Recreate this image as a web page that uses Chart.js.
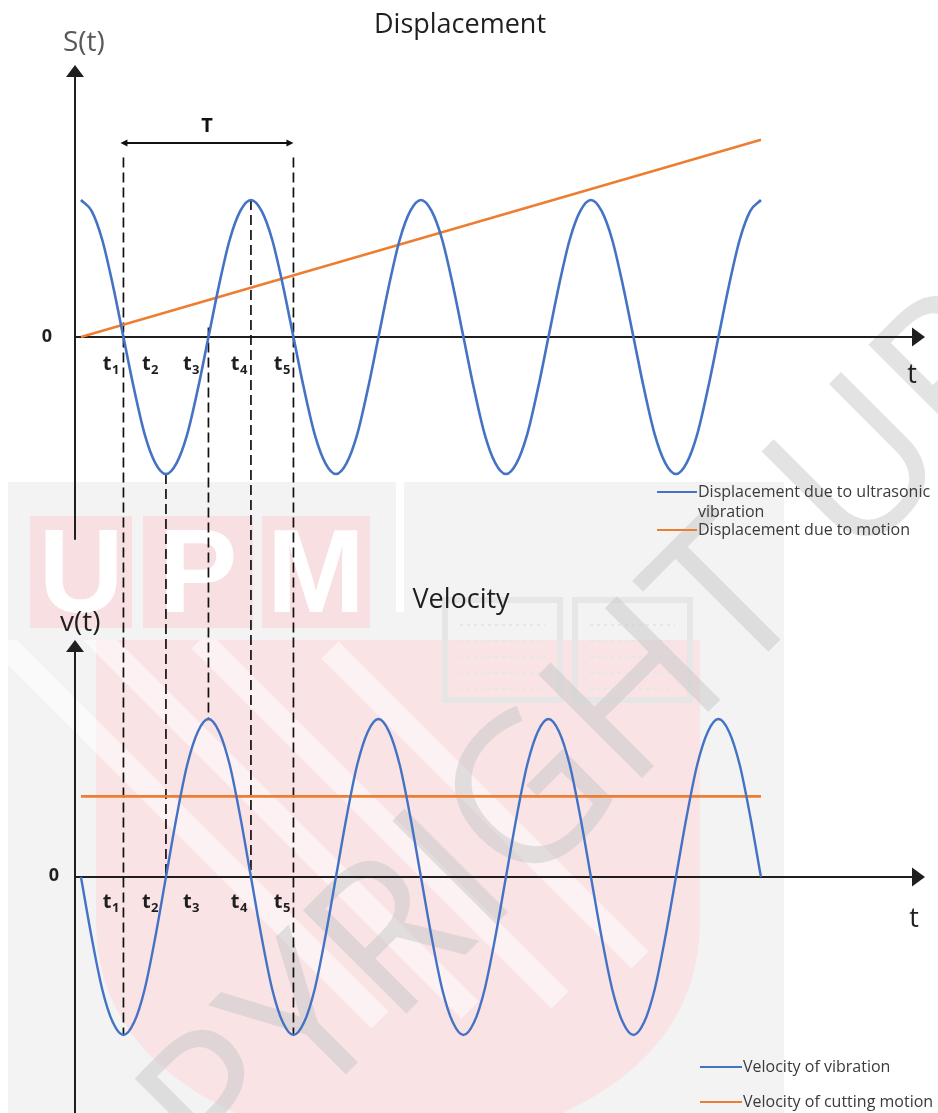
<!DOCTYPE html>
<html>
<head>
<meta charset="utf-8">
<title>Displacement and velocity of ultrasonic vibration</title>
<script src="https://cdn.jsdelivr.net/npm/chart.js@4.4.1/dist/chart.umd.min.js"></script>
<style>
  html, body { margin: 0; padding: 0; background: #fff; }
  #wrap { position: relative; width: 938px; height: 1113px; }
</style>
</head>
<body>
<div id="wrap"><canvas id="chart" width="938" height="1113"></canvas></div>
<script>
// Time in vibration periods (T = 1), sixteen readings per period
const timeT = [
  0, 0.0625, 0.125, 0.1875, 0.25, 0.3125, 0.375, 0.4375,
  0.5, 0.5625, 0.625, 0.6875, 0.75, 0.8125, 0.875, 0.9375,
  1, 1.0625, 1.125, 1.1875, 1.25, 1.3125, 1.375, 1.4375,
  1.5, 1.5625, 1.625, 1.6875, 1.75, 1.8125, 1.875, 1.9375,
  2, 2.0625, 2.125, 2.1875, 2.25, 2.3125, 2.375, 2.4375,
  2.5, 2.5625, 2.625, 2.6875, 2.75, 2.8125, 2.875, 2.9375,
  3, 3.0625, 3.125, 3.1875, 3.25, 3.3125, 3.375, 3.4375,
  3.5, 3.5625, 3.625, 3.6875, 3.75, 3.8125, 3.875, 3.9375, 4];

// Displacement due to ultrasonic vibration (amplitude 1)
const displacementVibration = [
  1, 0.92, 0.71, 0.38, 0, -0.38, -0.71, -0.92, -1, -0.92, -0.71, -0.38, 0, 0.38, 0.71, 0.92,
  1, 0.92, 0.71, 0.38, 0, -0.38, -0.71, -0.92, -1, -0.92, -0.71, -0.38, 0, 0.38, 0.71, 0.92,
  1, 0.92, 0.71, 0.38, 0, -0.38, -0.71, -0.92, -1, -0.92, -0.71, -0.38, 0, 0.38, 0.71, 0.92,
  1, 0.92, 0.71, 0.38, 0, -0.38, -0.71, -0.92, -1, -0.92, -0.71, -0.38, 0, 0.38, 0.71, 0.92,
  1];

// Velocity of vibration (amplitude 1)
const velocityVibration = [
  0, -0.38, -0.71, -0.92, -1, -0.92, -0.71, -0.38, 0, 0.38, 0.71, 0.92, 1, 0.92, 0.71, 0.38,
  0, -0.38, -0.71, -0.92, -1, -0.92, -0.71, -0.38, 0, 0.38, 0.71, 0.92, 1, 0.92, 0.71, 0.38,
  0, -0.38, -0.71, -0.92, -1, -0.92, -0.71, -0.38, 0, 0.38, 0.71, 0.92, 1, 0.92, 0.71, 0.38,
  0, -0.38, -0.71, -0.92, -1, -0.92, -0.71, -0.38, 0, 0.38, 0.71, 0.92, 1, 0.92, 0.71, 0.38,
  0];

// Feed motion: straight displacement ramp and constant cutting velocity
const motionTime = [0, 4];
const displacementMotion = [0, 1.44];
const velocityCutting = [0.51, 0.51];

// Instants t1..t5 and where each guide line starts (S) and ends (v)
const markerTimes = [0.25, 0.5, 0.75, 1, 1.25];
const markerNames = ['1', '2', '3', '4', '5'];
const markerStartS = [1.31, -1, 0.07, 1, 1.31];
const markerEndV = [-1, 0, 1, 0, -1];
const markerLabelTimes = [0.176, 0.406, 0.647, 0.929, 1.182];

// One period T between t1 and t5
const periodSpan = [0.25, 1.25];
const periodLevel = 1.416;

// Axis extents in data units
const timeAxis = [-0.035, 4.965];
const sAxis = [-1.48, 1.985];
const vAxis = [-1.5, 1.5];

const COLORS = {
  blue: '#4472C4', orange: '#ED7D31', axis: '#1f1f1f',
  text: '#1f1f1f', muted: '#595959', legend: '#3a3a3a'
};
const FONT = '"Open Sans", "Liberation Sans", sans-serif';

function pts(xs, ys) { return xs.map((x, i) => ({ x, y: ys[i] })); }

function arrowHead(ctx, x, y, dx, dy, len, half) {
  const nx = -dy, ny = dx;
  ctx.beginPath();
  ctx.moveTo(x, y);
  ctx.lineTo(x - dx * len + nx * half, y - dy * len + ny * half);
  ctx.lineTo(x - dx * len - nx * half, y - dy * len - ny * half);
  ctx.closePath();
  ctx.fill();
}

function subscriptLabel(ctx, cx, baseline, sub) {
  ctx.font = 'bold 20px ' + FONT;
  const wMain = ctx.measureText('t').width;
  ctx.font = 'bold 13px ' + FONT;
  const wSub = ctx.measureText(sub).width;
  const left = cx - (wMain + wSub) / 2;
  ctx.textAlign = 'left';
  ctx.textBaseline = 'alphabetic';
  ctx.font = 'bold 20px ' + FONT;
  ctx.fillText('t', left, baseline);
  ctx.font = 'bold 13px ' + FONT;
  ctx.fillText(sub, left + wMain + 0.5, baseline + 4);
}

function drawWatermark(ctx) {
  ctx.save();
  // grey backing
  ctx.fillStyle = '#f3f3f3';
  ctx.fillRect(8, 482, 776, 631);
  ctx.fillStyle = '#ffffff';
  ctx.fillRect(396, 482, 8, 130);

  // shield
  ctx.fillStyle = '#f9e3e5';
  ctx.beginPath();
  ctx.moveTo(96, 640);
  ctx.lineTo(700, 640);
  ctx.lineTo(700, 920);
  ctx.quadraticCurveTo(700, 1110, 400, 1160);
  ctx.quadraticCurveTo(96, 1110, 96, 920);
  ctx.closePath();
  ctx.fill();

  // diagonal light stripes across the shield
  ctx.save();
  ctx.beginPath();
  ctx.rect(8, 640, 776, 473);
  ctx.clip();
  ctx.strokeStyle = 'rgba(255,255,255,0.55)';
  ctx.lineWidth = 24;
  [[-40, 600, 380, 1020], [60, 600, 470, 1010], [200, 640, 560, 1000], [330, 650, 640, 960]]
    .forEach(([a, b, c, d]) => { ctx.beginPath(); ctx.moveTo(a, b); ctx.lineTo(c, d); ctx.stroke(); });
  ctx.restore();

  // UPM lettering
  ctx.fillStyle = '#f8dfe2';
  [[30, 102], [143, 110], [262, 108]].forEach(([x0, w]) => ctx.fillRect(x0, 516, w, 112));
  ctx.fillStyle = '#ffffff';
  ctx.font = 'bold 118px "Liberation Sans", sans-serif';
  ctx.textAlign = 'center';
  ctx.textBaseline = 'alphabetic';
  ctx.fillText('U', 81, 612);
  ctx.fillText('P', 198, 612);
  ctx.fillText('M', 316, 612);

  // open book emblem
  ctx.strokeStyle = '#e6e6e6';
  ctx.lineWidth = 6;
  ctx.strokeRect(445, 600, 115, 100);
  ctx.strokeRect(575, 600, 115, 100);
  ctx.lineWidth = 2;
  ctx.setLineDash([3, 4]);
  for (let y = 625; y < 690; y += 16) {
    ctx.beginPath(); ctx.moveTo(460, y); ctx.lineTo(545, y); ctx.stroke();
    ctx.beginPath(); ctx.moveTo(590, y); ctx.lineTo(675, y); ctx.stroke();
  }
  ctx.setLineDash([]);

  // diagonal copyright text
  ctx.translate(20, 1400);
  ctx.rotate(-Math.PI * 0.25);
  ctx.fillStyle = 'rgba(200,200,200,0.5)';
  ctx.font = '205px "Open Sans", sans-serif';
  ctx.textAlign = 'left';
  ctx.fillText('COPYRIGHT UPM', 0, 0);
  ctx.restore();
}

const diagramPlugin = {
  id: 'diagram',
  beforeDraw(chart) {
    const ctx = chart.ctx;
    ctx.save();
    ctx.fillStyle = '#ffffff';
    ctx.fillRect(0, 0, chart.width, chart.height);
    ctx.restore();
    drawWatermark(ctx);
  },
  beforeDatasetsDraw(chart) {
    const { ctx, scales } = chart;
    const x = scales.x, yS = scales.yS, yV = scales.yV;
    const px = v => x.getPixelForValue(v);
    ctx.save();

    // axes with arrows
    ctx.strokeStyle = COLORS.axis;
    ctx.fillStyle = COLORS.axis;
    ctx.lineWidth = 2;
    const x0 = px(timeAxis[0]), x1 = px(timeAxis[1]);
    [[yS, sAxis], [yV, vAxis]].forEach(([ys, range]) => {
      const yz = ys.getPixelForValue(0);
      const yTop = ys.getPixelForValue(range[1]);
      const yBot = ys.getPixelForValue(range[0]);
      ctx.beginPath(); ctx.moveTo(x0, yBot); ctx.lineTo(x0, yTop + 8); ctx.stroke();
      arrowHead(ctx, x0, yTop, 0, -1, 12, 9);
      ctx.beginPath(); ctx.moveTo(x0, yz); ctx.lineTo(x1 - 8, yz); ctx.stroke();
      arrowHead(ctx, x1, yz, 1, 0, 13, 9.5);
    });

    // guide lines at t1..t5
    ctx.setLineDash([10, 5]);
    ctx.lineWidth = 1.7;
    ctx.strokeStyle = '#111111';
    markerTimes.forEach((t, i) => {
      const gx = px(t);
      ctx.beginPath();
      ctx.moveTo(gx, yS.getPixelForValue(markerStartS[i]));
      ctx.lineTo(gx, yV.getPixelForValue(markerEndV[i]));
      ctx.stroke();
    });
    ctx.setLineDash([]);

    // period bracket
    const py = yS.getPixelForValue(periodLevel);
    const pa = px(periodSpan[0]) - 3, pb = px(periodSpan[1]);
    ctx.strokeStyle = '#111111';
    ctx.fillStyle = '#111111';
    ctx.lineWidth = 2;
    ctx.beginPath(); ctx.moveTo(pa + 4, py); ctx.lineTo(pb - 4, py); ctx.stroke();
    arrowHead(ctx, pa, py, -1, 0, 7, 3.5);
    arrowHead(ctx, pb, py, 1, 0, 7, 3.5);
    ctx.font = 'bold 20px ' + FONT;
    ctx.textAlign = 'center';
    ctx.textBaseline = 'alphabetic';
    ctx.fillText('T', (pa + pb) / 2, py - 11);

    // titles and axis names
    ctx.fillStyle = COLORS.text;
    ctx.font = '27px ' + FONT;
    ctx.textAlign = 'center';
    ctx.fillText('Displacement', 460, 33);
    ctx.fillText('Velocity', 461, 608);
    ctx.textAlign = 'left';
    ctx.font = '28px ' + FONT;
    ctx.fillStyle = COLORS.muted;
    ctx.fillText('S(t)', 63, 51);
    ctx.fillStyle = COLORS.text;
    ctx.fillText('v(t)', 60, 631);

    const ySz = yS.getPixelForValue(0), yVz = yV.getPixelForValue(0);
    ctx.font = 'bold 18px ' + FONT;
    ctx.textAlign = 'center';
    ctx.textBaseline = 'middle';
    ctx.fillText('0', 47, ySz);
    ctx.fillText('0', 54, yVz - 1);

    ctx.font = '27px ' + FONT;
    ctx.textBaseline = 'alphabetic';
    ctx.fillText('t', 912, ySz + 46);
    ctx.fillText('t', 914, yVz + 50);

    markerLabelTimes.forEach((t, i) => {
      subscriptLabel(ctx, px(t), ySz + 33, markerNames[i]);
      subscriptLabel(ctx, px(t), yVz + 31, markerNames[i]);
    });

    // legends
    ctx.font = '16px ' + FONT;
    ctx.textAlign = 'left';
    ctx.textBaseline = 'middle';
    ctx.fillStyle = COLORS.legend;
    ctx.lineWidth = 2.2;
    const legendItems = [
      [COLORS.blue, 657, 697, 492, ['Displacement due to ultrasonic', 'vibration']],
      [COLORS.orange, 657, 697, 530, ['Displacement due to motion']],
      [COLORS.blue, 700, 742, 1067, ['Velocity of vibration']],
      [COLORS.orange, 700, 742, 1102, ['Velocity of cutting motion']]
    ];
    legendItems.forEach(([col, a, b, y, lines]) => {
      ctx.strokeStyle = col;
      ctx.beginPath(); ctx.moveTo(a, y); ctx.lineTo(b, y); ctx.stroke();
      lines.forEach((s, k) => ctx.fillText(s, b + 1, y + k * 20));
    });
    ctx.restore();
  }
};

function build() {
  new Chart(document.getElementById('chart'), {
    type: 'scatter',
    data: {
      datasets: [
        { label: 'Displacement due to ultrasonic vibration', data: pts(timeT, displacementVibration),
          yAxisID: 'yS', borderColor: COLORS.blue, borderWidth: 2.6 },
        { label: 'Displacement due to motion', data: pts(motionTime, displacementMotion),
          yAxisID: 'yS', borderColor: COLORS.orange, borderWidth: 2.4 },
        { label: 'Velocity of vibration', data: pts(timeT, velocityVibration),
          yAxisID: 'yV', borderColor: COLORS.blue, borderWidth: 2.4 },
        { label: 'Velocity of cutting motion', data: pts(motionTime, velocityCutting),
          yAxisID: 'yV', borderColor: COLORS.orange, borderWidth: 2.6 }
      ].map(d => Object.assign(d, { showLine: true, pointRadius: 0, pointHoverRadius: 0,
                                     cubicInterpolationMode: 'monotone', fill: false, clip: false }))
    },
    options: {
      responsive: false,
      animation: false,
      events: [],
      layout: { padding: { left: 75, right: 13, top: 0, bottom: 0 } },
      plugins: { legend: { display: false }, tooltip: { enabled: false }, title: { display: false } },
      scales: {
        x: { type: 'linear', min: timeAxis[0], max: timeAxis[1], display: false },
        yS: { type: 'linear', min: -5.664, max: 2.460, display: false },
        yV: { type: 'linear', min: -1.4937, max: 5.5506, display: false }
      }
    },
    plugins: [diagramPlugin]
  });
}

Promise.all([
  document.fonts.load('26px "Open Sans"'),
  document.fonts.load('bold 17px "Open Sans"')
]).then(build, build);
</script>
</body>
</html>
